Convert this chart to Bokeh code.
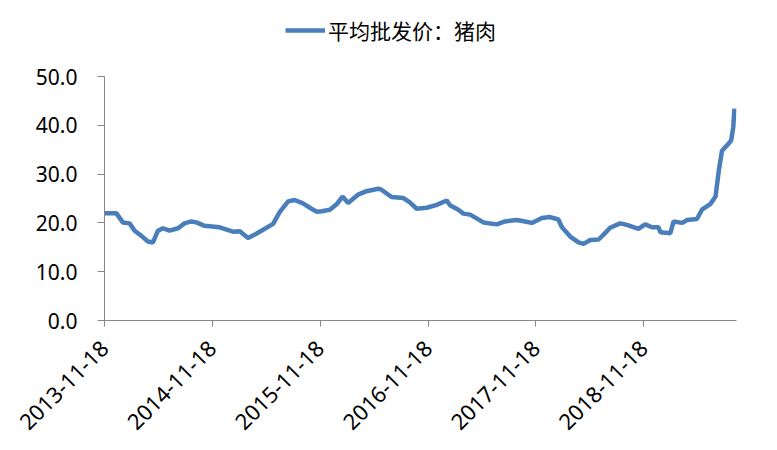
import math
import pandas as pd
from bokeh.plotting import figure
from bokeh.models import (FixedTicker, NumeralTickFormatter, DatetimeTickFormatter,
                          Range1d, Legend, LegendItem)
from bokeh.embed import file_html
from bokeh.resources import INLINE

dates = [
    "2013-11-18", "2013-12-28", "2014-01-19", "2014-02-11", "2014-02-28", "2014-03-22",
    "2014-04-14", "2014-05-01", "2014-05-18", "2014-06-04", "2014-06-26", "2014-07-25",
    "2014-08-16", "2014-09-08", "2014-09-25", "2014-10-23", "2014-12-13", "2015-01-27",
    "2015-02-19", "2015-03-19", "2015-04-11", "2015-05-09", "2015-06-12", "2015-07-04",
    "2015-08-02", "2015-08-24", "2015-09-21", "2015-10-20", "2015-11-06", "2015-11-24",
    "2015-12-21", "2016-01-13", "2016-02-02", "2016-02-21", "2016-03-26", "2016-04-23",
    "2016-06-02", "2016-06-13", "2016-07-17", "2016-08-26", "2016-09-17", "2016-10-10",
    "2016-11-13", "2016-12-17", "2017-01-20", "2017-01-31", "2017-02-28", "2017-03-17",
    "2017-04-09", "2017-05-24", "2017-07-08", "2017-08-05", "2017-09-14", "2017-10-12",
    "2017-11-04", "2017-12-08", "2018-01-05", "2018-02-02", "2018-02-14", "2018-03-14",
    "2018-04-11", "2018-04-28", "2018-05-21", "2018-06-18", "2018-07-05", "2018-07-27",
    "2018-08-30", "2018-09-22", "2018-10-31", "2018-11-23", "2018-12-16", "2019-01-07",
    "2019-01-13", "2019-02-16", "2019-02-27", "2019-03-28", "2019-04-14", "2019-05-17",
    "2019-06-03", "2019-07-02", "2019-07-19", "2019-07-30", "2019-08-10", "2019-09-02",
    "2019-09-10", "2019-09-17", "2019-09-21",
]
pork_price = [
    22.0, 22.0, 20.1, 19.9, 18.4, 17.4,
    16.2, 16.0, 18.4, 18.9, 18.4, 18.9,
    19.9, 20.3, 20.1, 19.4, 19.1, 18.2,
    18.3, 16.9, 17.6, 18.6, 19.8, 22.2,
    24.4, 24.7, 24.0, 22.9, 22.3, 22.4,
    22.7, 23.8, 25.4, 24.1, 25.8, 26.5,
    27.0, 26.8, 25.3, 25.1, 24.2, 22.9,
    23.1, 23.7, 24.6, 23.6, 22.7, 21.9,
    21.7, 20.1, 19.7, 20.3, 20.6, 20.3,
    20.0, 21.0, 21.2, 20.7, 19.1, 17.2,
    16.0, 15.7, 16.5, 16.6, 17.6, 19.0,
    19.9, 19.6, 18.8, 19.7, 19.1, 19.1,
    18.1, 17.9, 20.3, 20.0, 20.6, 20.8,
    22.7, 23.9, 25.4, 30.7, 34.8, 36.3,
    36.9, 39.6, 43.4,
]
tick_dates = ["2013-11-18", "2014-11-18", "2015-11-18", "2016-11-18", "2017-11-18", "2018-11-18"]
y_ticks = [0, 10, 20, 30, 40, 50]
series_name = "平均批发价：猪肉"

x = pd.to_datetime(dates)
x_start = pd.Timestamp("2013-11-18")
x_end = pd.Timestamp("2019-09-28")

def ms(t):
    return pd.Timestamp(t).value / 1e6

# frame extends above 50 so the legend fits inside; y axis is bounded to 0..50
y_top = 50 * 312 / 244

p = figure(width=760, height=440, x_axis_type="datetime", output_backend="svg",
           toolbar_location=None,
           x_range=Range1d(ms(x_start), ms(x_end)), y_range=Range1d(0, y_top),
           min_border_left=104, min_border_right=24, min_border_top=8, min_border_bottom=120)
p.outline_line_color = None
p.xgrid.visible = False
p.ygrid.visible = False

r = p.line(x, pork_price, line_color="#4a7ebb", line_width=4.5)

axis_color = "#868686"
font = "Noto Sans"

p.yaxis.bounds = (0, 50)
p.yaxis.ticker = FixedTicker(ticks=y_ticks)
p.yaxis.formatter = NumeralTickFormatter(format="0.0")
p.yaxis.axis_line_color = axis_color
p.yaxis.major_tick_line_color = axis_color
p.yaxis.major_tick_out = 7
p.yaxis.major_tick_in = 0
p.yaxis.minor_tick_line_color = None
p.yaxis.major_label_standoff = 20
p.yaxis.major_label_text_font = font
p.yaxis.major_label_text_font_size = "21px"
p.yaxis.major_label_text_color = "#000000"

p.xaxis.ticker = FixedTicker(ticks=[ms(t) for t in tick_dates])
fmt = "%Y-%m-%d"
p.xaxis.formatter = DatetimeTickFormatter(years=fmt, months=fmt, days=fmt, hours=fmt,
                                          minutes=fmt, seconds=fmt, milliseconds=fmt,
                                          microseconds=fmt, hourmin=fmt, minsec=fmt)
p.xaxis.axis_line_color = axis_color
p.xaxis.major_tick_line_color = axis_color
p.xaxis.major_tick_out = 6
p.xaxis.major_tick_in = 0
p.xaxis.minor_tick_line_color = None
p.xaxis.major_label_orientation = math.pi / 4
p.xaxis.major_label_standoff = 18
p.xaxis.major_label_text_font = font
p.xaxis.major_label_text_font_size = "22px"
p.xaxis.major_label_text_color = "#000000"

legend = Legend(items=[LegendItem(label=series_name, renderers=[r])],
                location=(181, 275), orientation="horizontal",
                glyph_width=40, label_standoff=3, padding=0, margin=0, spacing=0,
                border_line_color=None, background_fill_alpha=0,
                label_text_font="Noto Sans CJK SC", label_text_font_size="21px",
                label_text_color="#000000")
p.add_layout(legend, "center")

open("out.html", "w").write(file_html(p, INLINE))
